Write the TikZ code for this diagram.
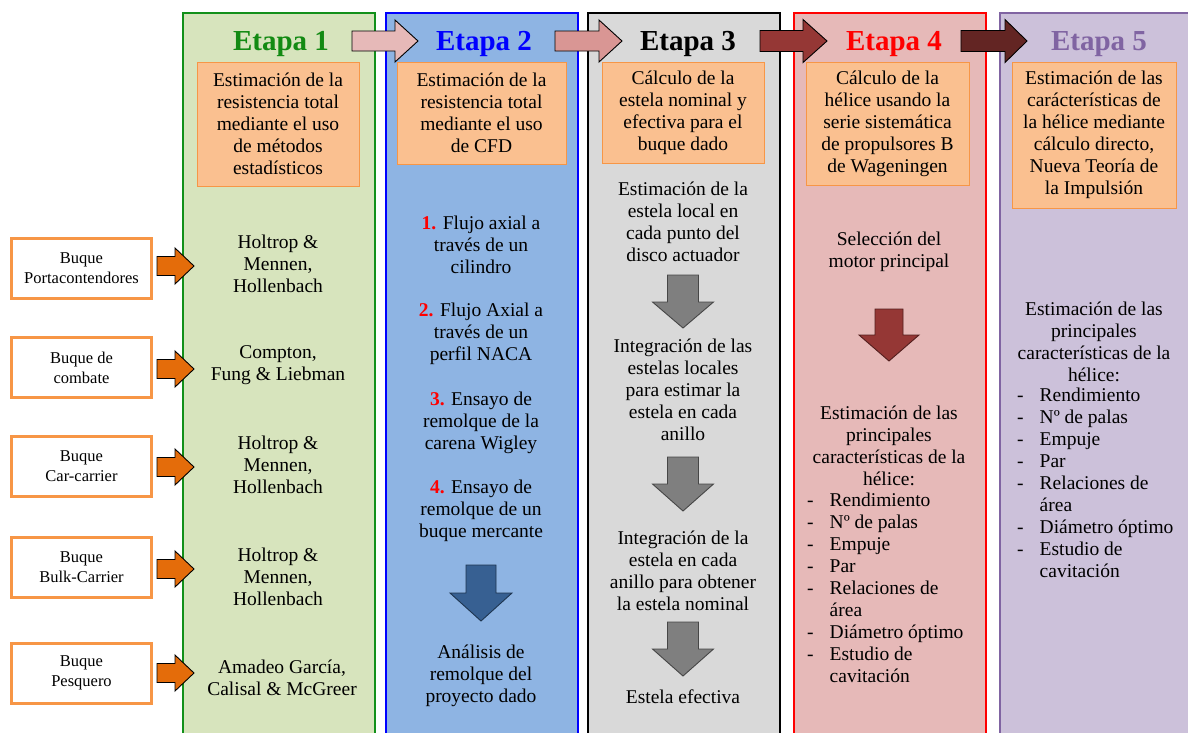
\documentclass[tikz,border=0pt]{standalone}
\usepackage{fontspec}
\setmainfont{Liberation Serif}
\definecolor{cAfill}{HTML}{D7E4BD}
\definecolor{cAdraw}{HTML}{12901A}
\definecolor{cAtext}{HTML}{138A13}
\definecolor{cBfill}{HTML}{8EB4E3}
\definecolor{cBdraw}{HTML}{0000FF}
\definecolor{cCfill}{HTML}{D9D9D9}
\definecolor{cDfill}{HTML}{E6B9B8}
\definecolor{cDdraw}{HTML}{FF0000}
\definecolor{cEfill}{HTML}{CCC1DA}
\definecolor{cEdraw}{HTML}{8064A2}
\definecolor{obfill}{HTML}{FAC090}
\definecolor{obdraw}{HTML}{F79646}
\definecolor{larrow}{HTML}{E46C0A}
\definecolor{haA}{HTML}{E6B9B8}
\definecolor{haB}{HTML}{D99694}
\definecolor{haC}{HTML}{953735}
\definecolor{haD}{HTML}{632523}
\definecolor{blueArr}{HTML}{376092}
\definecolor{grayArr}{HTML}{7F7F7F}
\definecolor{numred}{HTML}{FF0000}
% right-pointing block arrow: x0 xh x1 yc bodyh headh fill
\newcommand\rblk[7]{%
  \filldraw[fill=#7, draw=black, line width=0.9pt, line join=miter]
   (#1,{#4-#5/2}) -- (#2,{#4-#5/2}) -- (#2,{#4-#6/2}) -- (#3,#4)
   -- (#2,{#4+#6/2}) -- (#2,{#4+#5/2}) -- (#1,{#4+#5/2}) -- cycle;}
% down-pointing block arrow: xc y0 yh y1 bodyw headw fill
\newcommand\dblk[7]{%
  \filldraw[fill=#7, draw=#7!55!black, line width=0.9pt, line join=miter]
   ({#1-#5/2},#2) -- ({#1+#5/2},#2) -- ({#1+#5/2},#3) -- ({#1+#6/2},#3)
   -- (#1,#4) -- ({#1-#6/2},#3) -- ({#1-#5/2},#3) -- cycle;}
\newcommand\nr[1]{\textbf{\color{numred}#1}}
\begin{document}
\begin{tikzpicture}[x=1pt,y=-1pt,
  col/.style={anchor=north west, minimum width=192pt, minimum height=740pt, line width=2pt, inner sep=0pt},
  obox/.style={draw=obdraw, fill=obfill, line width=1pt, align=center, inner sep=0pt,
     font=\fontsize{19.5}{22}\selectfont},
  lbox/.style={draw=obdraw, fill=white, line width=3pt, align=center, inner sep=0pt,
     minimum width=140pt, minimum height=60pt, font=\fontsize{16.5}{20}\selectfont},
  txt/.style={align=center, inner sep=0pt, font=\fontsize{19.5}{22}\selectfont},
  etapa/.style={anchor=base, inner sep=0pt, font=\bfseries\fontsize{29}{32}\selectfont},
  lst/.style={anchor=west, inner sep=0pt, font=\fontsize{19.5}{22}\selectfont}]
\useasboundingbox (0,0) rectangle (1188,732);
\fill[white] (0,0) rectangle (1188,732);

% columns
\node[col, fill=cAfill, draw=cAdraw] (c1) at (182,12) {};
\node[col, fill=cBfill, draw=cBdraw] (c2) at (385,12) {};
\node[col, fill=cCfill, draw=black] (c3) at (587,12) {};
\node[col, fill=cDfill, draw=cDdraw] (c4) at (793,12) {};
\node[col, fill=cEfill, draw=cEdraw] (c5) at (999,12) {};

% header arrows
\rblk{352}{395}{418}{41}{20}{42}{haA}
\rblk{555}{599}{622}{41}{20}{42}{haB}
\rblk{760}{803}{827}{41}{21}{43}{haC}
\rblk{961}{1005}{1027}{41}{21}{43}{haD}

% stage titles
\node[etapa, text=cAtext] (e1) at (281,50) {Etapa 1};
\node[etapa, text=cBdraw] (e2) at (484,50) {Etapa 2};
\node[etapa, text=black] (e3) at (688,50) {Etapa 3};
\node[etapa, text=cDdraw] (e4) at (894,50) {Etapa 4};
\node[etapa, text=cEdraw] (e5) at (1099,50) {Etapa 5};

% orange header boxes
\node[obox, minimum width=162pt, minimum height=124pt] (o1) at (278,124)
  {Estimación de la\\resistencia total\\mediante el uso\\de métodos\\estadísticos};
\node[obox, minimum width=169pt, minimum height=102pt] (o2) at (481.5,113)
  {Estimación de la\\resistencia total\\mediante el uso\\de CFD};
\node[obox, minimum width=162pt, minimum height=101pt] (o3) at (683,112.5)
  {Cálculo de la\\estela nominal y\\efectiva para el\\buque dado};
\node[obox, minimum width=163pt, minimum height=123pt] (o4) at (887.5,123.5)
  {Cálculo de la\\hélice usando la\\serie sistemática\\de propulsores B\\de Wageningen};
\node[obox, minimum width=164pt, minimum height=146pt] (o5) at (1094,135)
  {Estimación de las\\carácterísticas de\\la hélice mediante\\cálculo directo,\\Nueva Teoría de\\la Impulsión};

% left ship boxes
\node[lbox] (b1) at (81.5,268.5) {Buque\\Portacontendores};
\node[lbox] (b2) at (81.5,367.5) {Buque de\\combate};
\node[lbox] (b3) at (81.5,466) {Buque\\Car-carrier};
\node[lbox] (b4) at (81.5,567.5) {Buque\\Bulk-Carrier};
\node[lbox] (b5) at (81.5,673) {Buque\\Pesquero};

% orange arrows into stage 1
\rblk{157}{175}{194}{266}{19}{36}{larrow}
\rblk{157}{175}{194}{369}{19}{36}{larrow}
\rblk{157}{175}{194}{467}{19}{36}{larrow}
\rblk{157}{175}{194}{569}{19}{36}{larrow}
\rblk{157}{175}{194}{673}{19}{36}{larrow}

% stage 1 texts
\node[txt] (m1) at (278,264) {Holtrop \&\\Mennen,\\Hollenbach};
\node[txt] (m2) at (278,365) {Compton,\\Fung \& Liebman};
\node[txt] (m3) at (278,465) {Holtrop \&\\Mennen,\\Hollenbach};
\node[txt] (m4) at (278,577) {Holtrop \&\\Mennen,\\Hollenbach};
\node[txt] (m5) at (282,678) {Amadeo García,\\Calisal \& McGreer};

% stage 2 texts
\node[txt] (s1) at (481,245) {\nr{1.} Flujo axial a\\través de un\\cilindro};
\node[txt] (s2) at (481,334) {\nr{2.} Flujo Axial a\\través de un\\perfil NACA};
\node[txt] (s3) at (481,423) {\nr{3.} Ensayo de\\remolque de la\\carena Wigley};
\node[txt] (s4) at (481,511) {\nr{4.} Ensayo de\\remolque de un\\buque mercante};
\dblk{481}{565}{593}{621}{30}{62}{blueArr}
\node[txt] (s5) at (481,676) {Análisis de\\remolque del\\proyecto dado};

% stage 3 texts
\node[txt] (w1) at (683,222) {Estimación de la\\estela local en\\cada punto del\\disco actuador};
\dblk{683}{275}{302}{328}{31}{61}{grayArr}
\node[txt] (w2) at (683,390) {Integración de las\\estelas locales\\para estimar la\\estela en cada\\anillo};
\dblk{683}{457}{484}{511}{31}{61}{grayArr}
\node[txt] (w3) at (683,571) {Integración de la\\estela en cada\\anillo para obtener\\la estela nominal};
\dblk{683}{622}{649}{676}{31}{61}{grayArr}
\node[txt] (w4) at (683,697) {Estela efectiva};

% stage 4 texts
\node[txt] (p1) at (889,252) {Selección del\\motor principal};
\dblk{889}{309}{335}{361}{28}{60}{haC}
\node[txt] (p2) at (889,446) {Estimación de las\\principales\\características de la\\hélice:};
\node[lst] (p3) at (807,590) {\begin{tabular}{@{}l@{\hspace{16pt}}l@{}}
- & Rendimiento\\ - & Nº de palas\\ - & Empuje\\ - & Par\\ - & Relaciones de\\ & área\\
- & Diámetro óptimo\\ - & Estudio de\\ & cavitación\end{tabular}};

% stage 5 texts
\node[txt] (q1) at (1094,342) {Estimación de las\\principales\\características de la\\hélice:};
\node[lst] (q2) at (1017,485.5) {\begin{tabular}{@{}l@{\hspace{16pt}}l@{}}
- & Rendimiento\\ - & Nº de palas\\ - & Empuje\\ - & Par\\ - & Relaciones de\\ & área\\
- & Diámetro óptimo\\ - & Estudio de\\ & cavitación\end{tabular}};
\end{tikzpicture}
\end{document}
